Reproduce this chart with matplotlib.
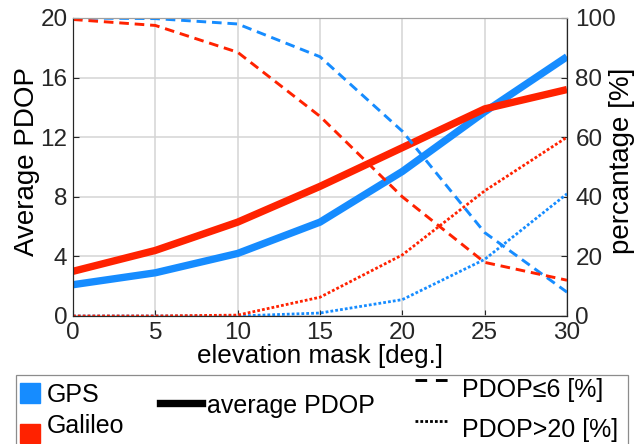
import numpy as np
import matplotlib.pyplot as plt
from matplotlib.lines import Line2D
from matplotlib.patches import Rectangle

plt.rcParams['font.family'] = ['Liberation Sans', 'DejaVu Sans']

# elevation mask [deg.]
elev = [0, 5, 10, 15, 20, 25, 30]

# average PDOP (left axis)
gps_pdop = [2.1, 2.9, 4.2, 6.3, 9.7, 13.7, 17.4]
gal_pdop = [3.0, 4.4, 6.3, 8.7, 11.3, 13.9, 15.2]

# percentage of epochs (right axis)
gps_le6 = [100, 99.8, 98, 87, 62, 28, 8]
gal_le6 = [99.5, 97.5, 88.5, 67, 40, 18, 12]
gps_gt20 = [0, 0, 0, 1, 5.5, 19, 41]
gal_gt20 = [0, 0, 0.3, 6.3, 20.5, 42, 60]

blue = '#168cff'
red = '#ff2200'
W, H = 641, 444
DASH = (3.3, 2.0)
DOT = (1.0, 0.75)

fig = plt.figure(figsize=(W / 100, H / 100), dpi=100)
ax = fig.add_axes([73 / W, 1 - 316 / H, 494 / W, 298 / H])
ax2 = ax.twinx()

ax.plot(elev, gps_pdop, color=blue, lw=5.3, solid_capstyle='butt')
ax.plot(elev, gal_pdop, color=red, lw=5.3, solid_capstyle='butt')

ax2.plot(elev, gps_le6, color=blue, lw=2.1, dashes=DASH)
ax2.plot(elev, gal_le6, color=red, lw=2.1, dashes=DASH)
ax2.plot(elev, gps_gt20, color=blue, lw=2.0, dashes=DOT)
ax2.plot(elev, gal_gt20, color=red, lw=2.0, dashes=DOT)

ax.set_xlim(0, 30)
ax.set_ylim(0, 20)
ax2.set_ylim(0, 100)
ax.set_xticks(range(0, 31, 5))
ax.set_yticks(range(0, 21, 4))
ax2.set_yticks(range(0, 101, 20))
ax.grid(True, color='#d4d4d4', lw=1.1)
ax.set_axisbelow(True)

for a in (ax, ax2):
    a.tick_params(direction='in', length=4, width=0.8, labelsize=17.5, colors='#262626', pad=4)
    a.spines['top'].set_color('#a0a0a0')
    for s in ('left', 'bottom', 'right'):
        a.spines[s].set_color('#262626')
ax2.tick_params(axis='y', pad=6)
ax.set_xlabel('elevation mask [deg.]', fontsize=18.7)
ax.set_ylabel('Average PDOP', fontsize=20)
ax2.set_ylabel('percantage [%]', fontsize=20)
ax.xaxis.set_label_coords(0.5, -0.095)
ax.yaxis.set_label_coords(-0.066, 0.517)
ax2.yaxis.set_label_coords(1.085, 0.52)


# legend box, drawn in figure pixels
def p(x, y):
    return x / W, 1 - y / H


fs = 18
fig.add_artist(Rectangle(p(16, 446), 612 / W, 71 / H, transform=fig.transFigure,
                         facecolor='white', edgecolor='#8c8c8c', lw=0.9))
fig.add_artist(Rectangle(p(20, 403), 20 / W, 20 / H, transform=fig.transFigure, color=blue))
fig.add_artist(Rectangle(p(20, 443), 20 / W, 19 / H, transform=fig.transFigure, color=red))
fig.text(*p(47, 402), 'GPS', fontsize=fs, va='baseline')
fig.text(*p(47, 433), 'Galileo', fontsize=fs, va='baseline')
x0, y0 = p(160, 403)
x1, _ = p(202, 403)
fig.add_artist(Line2D([x0, x1], [y0, y0], transform=fig.transFigure, color='black', lw=5.3))
fig.text(*p(207, 413), 'average PDOP', fontsize=fs, va='baseline')
x0, y0 = p(415, 380)
x1, _ = p(448, 380)
fig.add_artist(Line2D([x0, x1], [y0, y0], transform=fig.transFigure, color='black',
                      lw=2.1, dashes=(4.0, 3.0)))
fig.text(*p(462, 397), 'PDOP≤6 [%]', fontsize=fs, va='baseline')
x0, y0 = p(415, 421)
fig.add_artist(Line2D([x0, x1], [y0, y0], transform=fig.transFigure, color='black',
                      lw=2.0, dashes=(1.0, 0.75)))
fig.text(*p(462, 437), 'PDOP>20 [%]', fontsize=fs, va='baseline')

fig.savefig('out.png', dpi=100)
